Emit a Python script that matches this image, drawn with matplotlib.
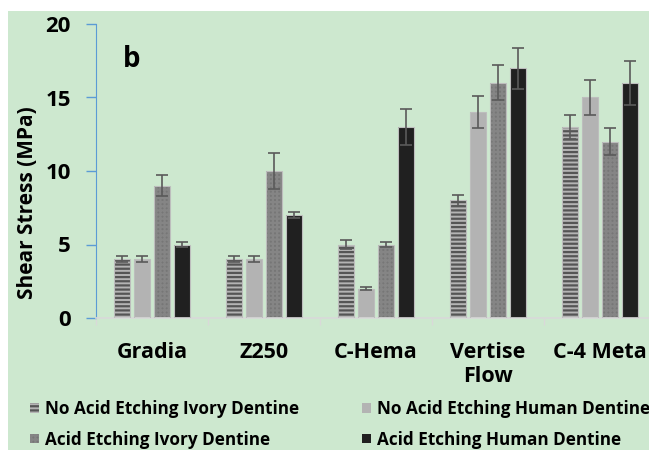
import numpy as np
import matplotlib
matplotlib.use("Agg")
import matplotlib.pyplot as plt
from matplotlib.patches import Rectangle, Patch

# ── Data ────────────────────────────────────────────────────────────────────
categories = ["Gradia", "Z250", "C-Hema", "Vertise\nFlow", "C-4 Meta"]
series = ["No Acid Etching Ivory Dentine", "No Acid Etching Human Dentine",
          "Acid Etching Ivory Dentine", "Acid Etching Human Dentine"]
no_acid_ivory = [4, 4, 5, 8, 13]
no_acid_human = [4, 4, 2, 14, 15]
acid_ivory    = [9, 10, 5, 16, 12]
acid_human    = [5, 7, 13, 17, 16]
err_no_acid_ivory = [0.2, 0.2, 0.3, 0.4, 0.8]
err_no_acid_human = [0.2, 0.2, 0.1, 1.1, 1.2]
err_acid_ivory    = [0.7, 1.2, 0.2, 1.2, 0.9]
err_acid_human    = [0.2, 0.2, 1.2, 1.4, 1.5]

values = [no_acid_ivory, no_acid_human, acid_ivory, acid_human]
errors = [err_no_acid_ivory, err_no_acid_human, err_acid_ivory, err_acid_human]

# ── Style ───────────────────────────────────────────────────────────────────
BG = "#cde8cf"
styles = [
    dict(face="#b4b4b4", hatch="----", hcolor="#555555"),
    dict(face="#b3b3b3", hatch="",     hcolor="#b3b3b3"),
    dict(face="#767676", hatch="++++", hcolor="#858585"),
    dict(face="#202020", hatch="",     hcolor="#202020"),
]
plt.rcParams.update({
    "font.family": ["Open Sans", "DejaVu Sans"],
    "font.weight": "bold",
    "hatch.linewidth": 1.6,
})

W, H = 649, 450
fig = plt.figure(figsize=(W / 100, H / 100), dpi=100, facecolor="white")
fig.patches.append(Rectangle((8 / W, 0), 1, (H - 11) / H, transform=fig.transFigure,
                             facecolor=BG, edgecolor="none", zorder=-10))

ax = fig.add_axes([96 / W, (H - 318) / H, 560 / W, 294 / H])
ax.set_facecolor("none")

x = np.arange(len(categories))
step = 20 / 112
width = 16 / 112
for i, (vals, errs, st) in enumerate(zip(values, errors, styles)):
    pos = x + (i - 1.5) * step
    ax.bar(pos, vals, width, color=st["face"], hatch=st["hatch"],
           edgecolor=st["hcolor"], linewidth=0, zorder=2)
    ax.bar(pos, vals, width, fill=False, edgecolor="#bdbdbd", linewidth=0.8, zorder=3)
    ax.errorbar(pos, vals, yerr=errs, fmt="none", ecolor="#5a5a5a",
                elinewidth=1.2, capsize=4.3, capthick=1.2, zorder=4)

ax.set_xlim(-0.5, len(categories) - 0.5)
ax.set_ylim(0, 20)
ax.set_yticks([0, 5, 10, 15, 20])
ax.set_xticks(x)
ax.set_xticklabels(categories, fontsize=15.5, fontweight="bold", linespacing=1.2)
ax.set_xticks(np.arange(len(categories) + 1) - 0.5, minor=True)
ax.tick_params(axis="x", which="major", length=0, pad=17)
ax.tick_params(axis="x", which="minor", length=5, color="#d9d9d9", width=1)
ax.tick_params(axis="y", length=7, color="#5b9bd5", width=1, labelsize=16, pad=11)
for lab in ax.get_yticklabels():
    lab.set_fontweight("bold")

for s in ["top", "right"]:
    ax.spines[s].set_visible(False)
ax.spines["left"].set_color("#5b9bd5")
ax.spines["bottom"].set_color("#d9d9d9")
ax.spines["bottom"].set_linewidth(1.2)

ax.set_ylabel("Shear Stress (MPa)", fontsize=15, fontweight="bold")
ax.yaxis.set_label_coords((38 - 96) / 560, (318 - 203) / 294)
ax.text(27 / 560, 0.878, "b", transform=ax.transAxes, fontsize=20,
        fontweight="bold", ha="left", va="center")

# legend fills column-wise, so reorder to get rows as in the reference
order = [0, 2, 1, 3]
handles = [Patch(facecolor=styles[k]["face"], hatch=styles[k]["hatch"],
                 edgecolor=styles[k]["hcolor"], linewidth=0) for k in order]
labels = [series[k] for k in order]
fig.legend(handles, labels, loc="upper left", bbox_to_anchor=(15 / W, 1 - 385 / H),
           ncol=2, frameon=False, handlelength=0.5, handleheight=0.5,
           handletextpad=0.35, columnspacing=3.7, labelspacing=0.72,
           prop={"weight": "bold", "size": 12.3})

fig.savefig("out.png", dpi=100, facecolor="white")
